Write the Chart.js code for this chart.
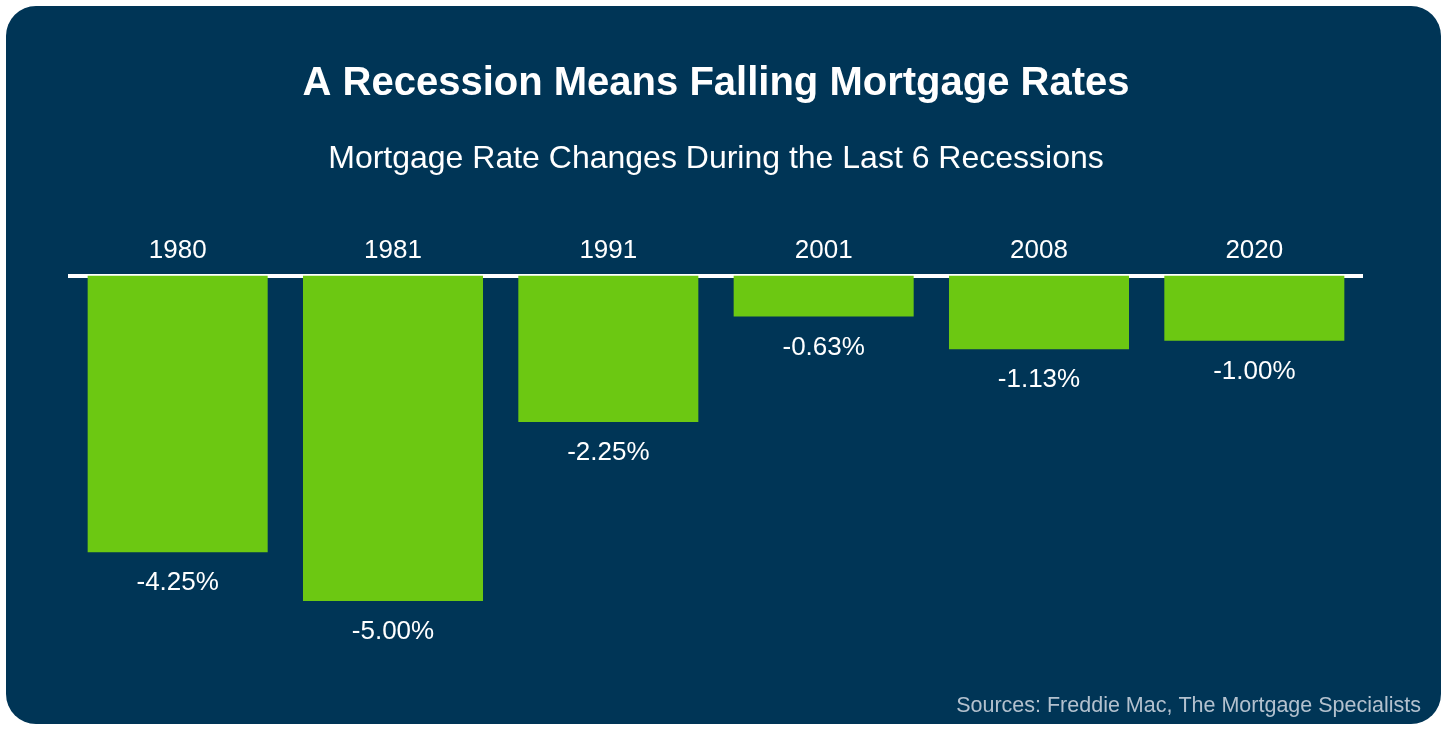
<!DOCTYPE html>
<html>
<head>
<meta charset="utf-8">
<script src="https://cdn.jsdelivr.net/npm/chart.js@4/dist/chart.umd.min.js"></script>
<style>
  html, body { margin: 0; padding: 0; background: #ffffff; }
  #panel {
    position: absolute; left: 6px; top: 6px; width: 1435px; height: 718px;
    background: #003556; border-radius: 30px;
  }
  #wrap { position: absolute; left: 0; top: 0; width: 1447px; height: 730px; }
</style>
</head>
<body>
<div id="panel"></div>
<div id="wrap"><canvas id="rates"></canvas></div>
<script>
const years = ['1980', '1981', '1991', '2001', '2008', '2020'];
const rateChanges = [-4.25, -5.00, -2.25, -0.63, -1.13, -1.00];
const valueLabels = ['-4.25%', '-5.00%', '-2.25%', '-0.63%', '-1.13%', '-1.00%'];
const sourceNote = 'Sources: Freddie Mac, The Mortgage Specialists';

const font = "'Liberation Sans', Arial, sans-serif";

// labels under each bar + sources line
const extras = {
  id: 'extras',
  afterDatasetsDraw(chart) {
    const c = chart.ctx;
    const meta = chart.getDatasetMeta(0);
    c.save();
    c.fillStyle = '#ffffff';
    c.font = '26px ' + font;
    c.textAlign = 'center';
    c.textBaseline = 'middle';
    meta.data.forEach((bar, i) => {
      c.fillText(valueLabels[i], bar.x, bar.y + 31);
    });
    c.fillStyle = '#b3c1ce';
    c.font = '21.5px ' + font;
    c.textAlign = 'right';
    c.fillText(sourceNote, 1421, 706);
    c.restore();
  }
};

new Chart(document.getElementById('rates'), {
  type: 'bar',
  data: {
    labels: years,
    datasets: [{
      data: rateChanges,
      backgroundColor: '#6cc812',
      borderWidth: 0,
      categoryPercentage: 1,
      barPercentage: 0.836
    }]
  },
  options: {
    responsive: true,
    maintainAspectRatio: false,
    animation: false,
    layout: { padding: { top: 40, left: 70, right: 85, bottom: 64 } },
    plugins: {
      legend: { display: false },
      tooltip: { enabled: false },
      title: {
        display: true,
        text: 'A Recession Means Falling Mortgage Rates',
        color: '#ffffff',
        font: { family: font, size: 40, weight: 'bold' },
        padding: { top: 20, bottom: 32 }
      },
      subtitle: {
        display: true,
        text: 'Mortgage Rate Changes During the Last 6 Recessions',
        color: '#ffffff',
        font: { family: font, size: 32 },
        padding: { top: 0, bottom: 48 }
      }
    },
    scales: {
      x: {
        position: 'top',
        grid: { display: false, drawTicks: false },
        border: { display: true, color: '#ffffff', width: 4 },
        ticks: { color: '#ffffff', font: { family: font, size: 26 }, padding: 9 }
      },
      y: {
        display: false,
        min: -6,
        max: 0
      }
    }
  },
  plugins: [extras]
});
</script>
</body>
</html>
